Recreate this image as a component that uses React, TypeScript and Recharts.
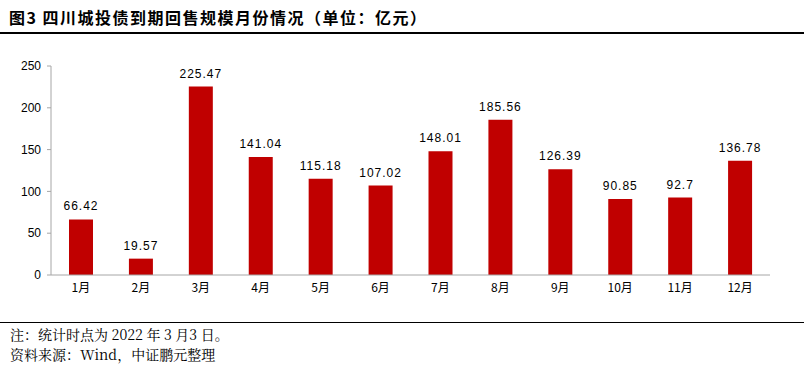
import React from "react";
import { BarChart, Bar, XAxis, YAxis, LabelList } from "recharts";

const months = ["1月", "2月", "3月", "4月", "5月", "6月", "7月", "8月", "9月", "10月", "11月", "12月"];
const values = [66.42, 19.57, 225.47, 141.04, 115.18, 107.02, 148.01, 185.56, 126.39, 90.85, 92.7, 136.78];
const yTicks = [0, 50, 100, 150, 200, 250];

const data = months.map((m, i) => ({ month: m, value: values[i] }));

const title = "图3 四川城投债到期回售规模月份情况（单位：亿元）";
const note1 = "注：统计时点为 2022 年 3 月3 日。";
const note2 = "资料来源：Wind，中证鹏元整理";

export default function App() {
  return (
    <div style={{ position: "absolute", left: 0, top: 0, width: 804, height: 368, background: "#fff" }}>
      <div
        style={{
          position: "absolute",
          left: 9,
          top: 5,
          fontFamily: "'Noto Sans CJK SC', sans-serif",
          fontWeight: 700,
          fontSize: 16,
          letterSpacing: 1.5,
          color: "#000",
          whiteSpace: "nowrap",
        }}
      >
        {title}
      </div>
      <div style={{ position: "absolute", left: 0, top: 32, width: 804, height: 1.5, background: "#000" }} />
      <div style={{ position: "absolute", left: 0, top: 0 }}>
        <BarChart width={804} height={300} data={data} margin={{ top: 66, right: 34, left: 0, bottom: 0 }}>
          <YAxis
            type="number"
            domain={[0, 250]}
            ticks={yTicks}
            width={51}
            axisLine={{ stroke: "#a6a6a6" }}
            tickLine={{ stroke: "#a6a6a6" }}
            tickSize={4}
            dx={-4}
            tick={{ fill: "#000", fontSize: 12, fontFamily: "'Liberation Sans', Arial, sans-serif" }}
            interval={0}
          />
          <XAxis
            dataKey="month"
            height={25}
            axisLine={{ stroke: "#a6a6a6" }}
            tickLine={false}
            tick={{ fill: "#000", fontSize: 12, fontFamily: "'Noto Sans CJK SC', sans-serif" }}
            interval={0}
          />
          <Bar dataKey="value" fill="#C00000" barSize={24} isAnimationActive={false}>
            <LabelList
              dataKey="value"
              position="top"
              offset={9}
              style={{ fill: "#000", fontSize: 12, letterSpacing: 1, fontFamily: "'Liberation Sans', Arial, sans-serif" }}
            />
          </Bar>
        </BarChart>
      </div>
      <div style={{ position: "absolute", left: 0, top: 322, width: 804, height: 1, background: "#000" }} />
      <div
        style={{
          position: "absolute",
          left: 10,
          top: 324,
          fontFamily: "'Noto Serif CJK SC', 'Noto Sans CJK SC', serif",
          fontSize: 14,
          lineHeight: "20px",
          color: "#000",
          whiteSpace: "nowrap",
        }}
      >
        <div>{note1}</div>
        <div>{note2}</div>
      </div>
    </div>
  );
}
